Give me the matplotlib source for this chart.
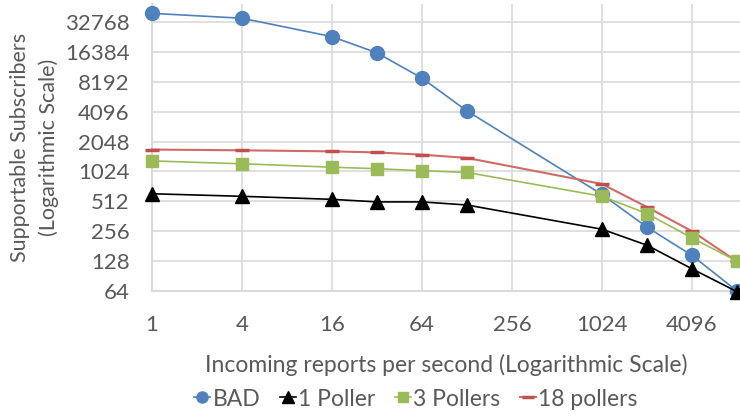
import matplotlib
matplotlib.use("Agg")
import matplotlib.pyplot as plt
from matplotlib.ticker import FixedLocator, FixedFormatter, NullLocator

plt.rcParams['font.family'] = ['Lato', 'DejaVu Sans']

x_vals = [1, 4, 16, 32, 64, 128, 1024, 2048, 4096, 8192]
bad = [40000, 35700, 23300, 16000, 8900, 4160, 600, 281, 146, 64]
poller1 = [610, 575, 536, 505, 505, 470, 268, 185, 107, 63]
pollers3 = [1306, 1222, 1130, 1090, 1040, 1000, 575, 385, 219, 128]
pollers18 = [1700, 1670, 1630, 1590, 1510, 1400, 765, 448, 256, 127]

x_ticks = [1, 4, 16, 64, 256, 1024, 4096]
y_ticks = [64, 128, 256, 512, 1024, 2048, 4096, 8192, 16384, 32768]

W, H = 740, 416
fig = plt.figure(figsize=(W / 100, H / 100), dpi=100)
ax = fig.add_axes([152 / W, 125 / H, (740 - 152) / W, (412 - 125) / H])

ax.set_xscale('log', base=2)
ax.set_yscale('log', base=2)

grid_c = '#D9D9D9'
txt_c = '#595959'

ax.plot(x_vals, bad, color='#4F81BD', lw=1.2, marker='o', ms=10,
        mfc='#4F81BD', mec='#4F81BD', label='BAD', clip_on=False, zorder=3)
ax.plot(x_vals, pollers18, color='#D06A67', lw=1.5, marker='_', ms=10, mew=2.5,
        mec='#C0504D', label='18 pollers', clip_on=False, zorder=3)
ax.plot(x_vals, pollers3, color='#9BBB59', lw=1.2, marker='s', ms=9,
        mfc='#9BBB59', mec='#9BBB59', label='3 Pollers', clip_on=False, zorder=3)
ax.plot(x_vals, poller1, color='black', lw=1.2, marker='^', ms=10,
        mfc='black', mec='black', label='1 Poller', clip_on=False, zorder=4)

ax.set_xlim(1, 8192 * 2 ** (3 / 45))
ax.set_ylim(64, 32768 * 2 ** (18 / 30))

ax.xaxis.set_major_locator(FixedLocator(x_ticks))
ax.xaxis.set_major_formatter(FixedFormatter([str(v) for v in x_ticks]))
ax.xaxis.set_minor_locator(NullLocator())
ax.yaxis.set_major_locator(FixedLocator(y_ticks))
ax.yaxis.set_major_formatter(FixedFormatter([str(v) for v in y_ticks]))
ax.yaxis.set_minor_locator(NullLocator())

ax.grid(True, which='major', color=grid_c, lw=1.2)
ax.set_axisbelow(True)
for s in ['top', 'right']:
    ax.spines[s].set_visible(False)
for s in ['left', 'bottom']:
    ax.spines[s].set_color(grid_c)
    ax.spines[s].set_linewidth(1.5)

ax.tick_params(axis='both', length=0, colors=txt_c, labelsize=16)
ax.tick_params(axis='x', pad=17)
ax.tick_params(axis='y', pad=16)

ax.set_xlabel('Incoming reports per second (Logarithmic Scale)', fontsize=16.5,
              color=txt_c, labelpad=14)
ax.set_ylabel('Supportable Subscribers\n(Logarithmic Scale)', fontsize=15.5,
              color=txt_c, labelpad=4, linespacing=1.55)

handles, labels = ax.get_legend_handles_labels()
order = [labels.index(l) for l in ['BAD', '1 Poller', '3 Pollers', '18 pollers']]
leg = fig.legend([handles[i] for i in order], [labels[i] for i in order],
                 loc='center', bbox_to_anchor=(416 / W, (416 - 399) / H), ncol=4,
                 frameon=False, fontsize=16.5, handlelength=0.7, handletextpad=0.1,
                 columnspacing=0.85, markerscale=0.8, borderpad=0)
for t in leg.get_texts():
    t.set_color(txt_c)

fig.savefig('out.png', dpi=100)
